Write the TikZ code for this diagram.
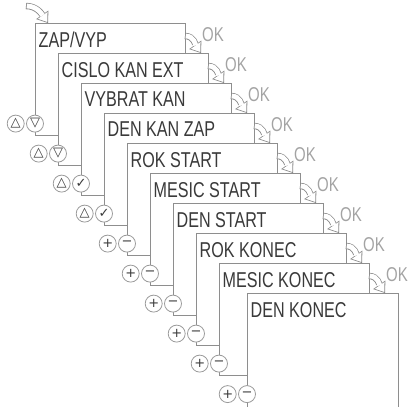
\documentclass[tikz,border=0pt]{standalone}
\usepackage{fontspec}
\usepackage{tikz}
\usetikzlibrary{arrows.meta, positioning}
\newfontfamily\lcdfont[FakeStretch=0.75]{Liberation Sans}
\newfontfamily\symfont{DejaVu Sans}
\definecolor{lcdink}{HTML}{3A3A3A}
\definecolor{paneline}{HTML}{8E8E8E}
\definecolor{okgray}{HTML}{A3A3A3}
\definecolor{btnline}{HTML}{9A9A9A}
\definecolor{hookgray}{HTML}{8A8A8A}
\tikzset{
  panel/.style={draw=paneline, fill=white, line width=1pt, anchor=north west,
    minimum width=150pt, minimum height=112pt, inner sep=0pt, outer sep=0pt},
  lcd/.style={font=\lcdfont\fontsize{21.5}{24}\selectfont, text=lcdink, inner sep=0pt},
  oklab/.style={font=\lcdfont\fontsize{20}{22}\selectfont, text=okgray, inner sep=0pt},
  btn/.style={circle, draw=btnline, fill=white, line width=0.8pt, minimum size=17pt,
    inner sep=0pt, font=\symfont\fontsize{13}{13}\selectfont, text=lcdink},
  hook/.style={line width=4.8pt, white, shorten <=0.8pt, shorten >=1.33pt,
    -{Triangle[length=7.9pt, width=11.8pt, line width=0pt]},
    preaction={draw=hookgray, line width=6.4pt, shorten <=0pt, shorten >=0pt,
      -{Triangle[length=10pt, width=15pt, line width=0pt]}}}
}
\begin{document}
\begin{tikzpicture}[x=1pt, y=1pt]
\useasboundingbox (0,0) rectangle (408,-407);
\node[panel] (zapvyp) at (35,-23) {};
\node[lcd, below right=9pt and 3.5pt of zapvyp.north west] (zapvyp-t) {ZAP/VYP};
\node[btn, above=2.5pt of zapvyp.south west] (zapvyp-b) {▽};
\node[btn, left=1.5pt of zapvyp-b] (zapvyp-a) {△};
\node[panel] (cislo) at (58,-53) {};
\node[lcd, below right=9pt and 3.5pt of cislo.north west] (cislo-t) {CISLO KAN EXT};
\node[btn, above=2.5pt of cislo.south west] (cislo-b) {▽};
\node[btn, left=1.5pt of cislo-b] (cislo-a) {△};
\node[panel] (vybrat) at (81,-83) {};
\node[lcd, below right=9pt and 3.5pt of vybrat.north west] (vybrat-t) {VYBRAT KAN};
\node[btn, above=2.5pt of vybrat.south west] (vybrat-b) {✓};
\node[btn, left=1.5pt of vybrat-b] (vybrat-a) {△};
\node[panel] (denkan) at (104,-113) {};
\node[lcd, below right=9pt and 3.5pt of denkan.north west] (denkan-t) {DEN KAN ZAP};
\node[btn, above=2.5pt of denkan.south west] (denkan-b) {✓};
\node[btn, left=1.5pt of denkan-b] (denkan-a) {△};
\node[panel] (rokstart) at (127,-143) {};
\node[lcd, below right=9pt and 3.5pt of rokstart.north west] (rokstart-t) {ROK START};
\node[btn, above=2.5pt of rokstart.south west] (rokstart-b) {−};
\node[btn, left=1.5pt of rokstart-b] (rokstart-a) {+};
\node[panel] (messtart) at (150,-173) {};
\node[lcd, below right=9pt and 3.5pt of messtart.north west] (messtart-t) {MESIC START};
\node[btn, above=2.5pt of messtart.south west] (messtart-b) {−};
\node[btn, left=1.5pt of messtart-b] (messtart-a) {+};
\node[panel] (denstart) at (173,-203) {};
\node[lcd, below right=9pt and 3.5pt of denstart.north west] (denstart-t) {DEN START};
\node[btn, above=2.5pt of denstart.south west] (denstart-b) {−};
\node[btn, left=1.5pt of denstart-b] (denstart-a) {+};
\node[panel] (rokkon) at (196,-233) {};
\node[lcd, below right=9pt and 3.5pt of rokkon.north west] (rokkon-t) {ROK KONEC};
\node[btn, above=2.5pt of rokkon.south west] (rokkon-b) {−};
\node[btn, left=1.5pt of rokkon-b] (rokkon-a) {+};
\node[panel] (meskon) at (219,-263) {};
\node[lcd, below right=9pt and 3.5pt of meskon.north west] (meskon-t) {MESIC KONEC};
\node[btn, above=2.5pt of meskon.south west] (meskon-b) {−};
\node[btn, left=1.5pt of meskon-b] (meskon-a) {+};
\node[panel, minimum width=151pt, minimum height=118pt] (denkon) at (247,-293) {};
\node[lcd, below right=9pt and 3.5pt of denkon.north west] (denkon-t) {DEN KONEC};
\node[btn, above=8pt of denkon.south west] (denkon-b) {−};
\node[btn, left=1.5pt of denkon-b] (denkon-a) {+};
\node[oklab, below right=4pt and 17pt of zapvyp.north east] (ok1) {OK};
\node[oklab, below right=4pt and 17pt of cislo.north east] (ok2) {OK};
\node[oklab, below right=4pt and 17pt of vybrat.north east] (ok3) {OK};
\node[oklab, below right=4pt and 17pt of denkan.north east] (ok4) {OK};
\node[oklab, below right=4pt and 17pt of rokstart.north east] (ok5) {OK};
\node[oklab, below right=4pt and 17pt of messtart.north east] (ok6) {OK};
\node[oklab, below right=4pt and 17pt of denstart.north east] (ok7) {OK};
\node[oklab, below right=4pt and 17pt of rokkon.north east] (ok8) {OK};
\node[oklab, below right=4pt and 17pt of meskon.north east] (ok9) {OK};
\coordinate (entry) at (26,-6);
\draw[hook] (entry) to[out=0, in=125] ([xshift=13pt]zapvyp.north west);
\draw[hook] ([yshift=-13pt]zapvyp.north east) to[out=0, in=125] ([shift={(16pt,-30pt)}]zapvyp.north east);
\draw[hook] ([yshift=-13pt]cislo.north east) to[out=0, in=125] ([shift={(16pt,-30pt)}]cislo.north east);
\draw[hook] ([yshift=-13pt]vybrat.north east) to[out=0, in=125] ([shift={(16pt,-30pt)}]vybrat.north east);
\draw[hook] ([yshift=-13pt]denkan.north east) to[out=0, in=125] ([shift={(16pt,-30pt)}]denkan.north east);
\draw[hook] ([yshift=-13pt]rokstart.north east) to[out=0, in=125] ([shift={(16pt,-30pt)}]rokstart.north east);
\draw[hook] ([yshift=-13pt]messtart.north east) to[out=0, in=125] ([shift={(16pt,-30pt)}]messtart.north east);
\draw[hook] ([yshift=-13pt]denstart.north east) to[out=0, in=125] ([shift={(16pt,-30pt)}]denstart.north east);
\draw[hook] ([yshift=-13pt]rokkon.north east) to[out=0, in=125] ([shift={(16pt,-30pt)}]rokkon.north east);
\draw[hook] ([yshift=-13pt]meskon.north east) to[out=0, in=125] ([shift={(16pt,-30pt)}]meskon.north east);
\end{tikzpicture}
\end{document}
